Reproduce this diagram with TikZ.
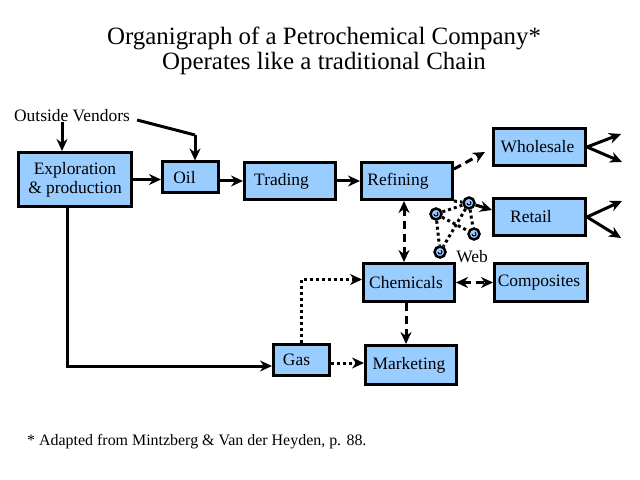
\documentclass[tikz,border=0pt]{standalone}
\usepackage{fontspec}
\setmainfont{Liberation Serif}
\usepackage{tikz}
\usetikzlibrary{arrows.meta}
\definecolor{boxblue}{RGB}{153,204,255}

\begin{document}
\begin{tikzpicture}[x=1bp, y=-1bp,
    box/.style={draw, line width=3bp, fill=boxblue, inner sep=0pt, align=center,
      font=\fontsize{17.5}{19}\selectfont},
    tshift/.style={execute at begin node={\hspace*{#1}}},
    lbl/.style={inner sep=0pt, font=\fontsize{17.5}{19}\selectfont},
    webnode/.style={circle, draw, line width=2.5bp, fill=boxblue, minimum size=11bp, inner sep=0pt,
      path picture={\draw[line width=1bp] ([xshift=-2bp]path picture bounding box.center)
        arc[start angle=180, end angle=420, radius=2bp];}},
    arr/.style={line width=3bp, -{Stealth[length=12bp, width=11bp]}},
    dasharr/.style={arr, dash pattern=on 8bp off 5bp},
    dotarr/.style={arr, dash pattern=on 3bp off 3bp},
    web/.style={line width=3bp, dash pattern=on 3bp off 3bp}]
  \useasboundingbox (0,0) rectangle (640,480);

  \node (title) at (324,51) [align=center, font=\fontsize{25}{25}\selectfont]
    {Organigraph of a Petrochemical Company*\\Operates like a traditional Chain};
  \node (note) at (27,442) [anchor=west, inner sep=0pt, font=\fontsize{16}{18}\selectfont]
    {* Adapted from Mintzberg \& Van der Heyden, p. 88.};

  \node (vendors) at (72,116) [lbl]{Outside Vendors};
  \node (expl) at (75,179.5) [box, minimum width=113bp, minimum height=54bp]{Exploration\\\& production};
  \node (oil) at (190.5,177.5) [box, tshift=-12bp, minimum width=56bp, minimum height=31bp]{Oil};
  \node (trading) at (290,181) [box, tshift=-17bp, minimum width=91bp, minimum height=37bp]{Trading};
  \node (refining) at (407,181) [box, tshift=-18bp, minimum width=91bp, minimum height=37bp]{Refining};
  \node (wholesale) at (539.5,147) [box, tshift=-4bp, minimum width=92bp, minimum height=37bp]{Wholesale};
  \node (retail) at (539.5,217) [box, tshift=-17bp, minimum width=92bp, minimum height=37bp]{Retail};
  \node (chemicals) at (409,282.5) [box, tshift=-6bp, minimum width=91bp, minimum height=38bp]{Chemicals};
  \node (composites) at (541,282.5) [box, tshift=-4bp, minimum width=93bp, minimum height=38bp]{Composites};
  \node (gas) at (301.5,360) [box, tshift=-10bp, minimum width=56bp, minimum height=31bp]{Gas};
  \node (marketing) at (411,365) [box, tshift=-4bp, minimum width=91bp, minimum height=39bp]{Marketing};

  \node (w1) at (436,214) [webnode]{};
  \node (w2) at (469,203) [webnode]{};
  \node (w3) at (474,234) [webnode]{};
  \node (w4) at (440,252) [webnode]{};
  \node (weblbl) at (472,257) [lbl]{Web};

  \coordinate (bend) at (195,135);
  \coordinate (wsup) at (621,134);
  \coordinate (wsdown) at (622,162);
  \coordinate (rtup) at (622,201);
  \coordinate (rtdown) at (621,238);

  \draw[arr] ([xshift=-10bp]vendors.south) -- ([xshift=-10bp]vendors.south |- expl.north);
  \draw[line width=3bp] ([xshift=7bp, yshift=-4bp]vendors.east) -- (bend);
  \draw[arr] (bend) -- (bend |- oil.north);
  \draw[arr] (expl.east) -- (oil.west |- expl.east);
  \draw[arr] (oil.east |- trading.west) -- (trading.west);
  \draw[arr] (trading.east) -- (refining.west);
  \draw[dasharr] ([yshift=12bp]refining.east) -- ([xshift=-7bp, yshift=-5bp]wholesale.west);
  \draw[arr] (wholesale.east) -- (wsup);
  \draw[arr] (wholesale.east) -- (wsdown);
  \draw[arr] (retail.east) -- (rtup);
  \draw[arr] (retail.east) -- (rtdown);

  \draw[web] (refining.south east) -- (w2);
  \draw[web] (w1) -- (w2);
  \draw[web] (w1) -- (w4);
  \draw[web] (w1) -- (w3);
  \draw[web] (w2) -- (w3);
  \draw[web] (w2) -- (w4);
  \draw[arr] (w2) -- ([yshift=7bp]retail.west);

  \draw[dasharr, {Stealth[length=12bp, width=11bp]}-{Stealth[length=12bp, width=11bp]}]
    ([xshift=-3bp]refining.south) -- ([xshift=-3bp]refining.south |- chemicals.north);
  \draw[dasharr, {Stealth[length=12bp, width=11bp]}-{Stealth[length=12bp, width=11bp]}]
    (chemicals.east) -- (composites.west);
  \draw[dasharr] ([xshift=-3bp]chemicals.south) -- ([xshift=-3bp]chemicals.south |- marketing.north);
  \draw[dotarr] (gas.north) |- ([yshift=3bp]chemicals.west);
  \draw[dotarr] ([yshift=-3bp]gas.east) -- ([yshift=-3bp]gas.east -| marketing.west);
  \draw[arr] ([xshift=-8bp]expl.south) |- ([yshift=-6bp]gas.west);
\end{tikzpicture}
\end{document}
